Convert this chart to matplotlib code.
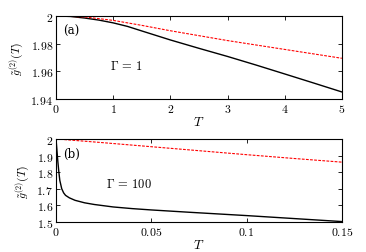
import matplotlib
matplotlib.use("Agg")
import matplotlib.pyplot as plt

plt.rcParams['mathtext.fontset'] = 'cm'
plt.rcParams['font.family'] = 'DejaVu Serif'

# Panel (a): Gamma = 1
Ta = [0, 0.25, 0.5, 0.75, 1, 1.25, 1.5, 2, 2.5, 3, 3.5, 4, 4.5, 5]
ga_black = [2.0, 1.99965, 1.9985, 1.9970, 1.9950, 1.99245, 1.98916, 1.98265,
            1.9766, 1.97072, 1.9645, 1.95807, 1.9516, 1.94506]
Ta_red = [0, 0.5, 1, 1.5, 2, 3, 4, 5]
ga_red = [2.0, 1.9993, 1.9968, 1.9932, 1.9893, 1.9822, 1.9758, 1.9694]

# Panel (b): Gamma = 100
Tb = [0, 0.0005, 0.001, 0.0015, 0.002, 0.003, 0.004, 0.005, 0.007, 0.01, 0.015,
      0.02, 0.03, 0.04, 0.05, 0.07, 0.1, 0.125, 0.15]
gb_black = [2.0, 1.93, 1.86, 1.80, 1.75, 1.70, 1.675, 1.66, 1.645, 1.63, 1.615,
            1.605, 1.59, 1.58, 1.572, 1.558, 1.538, 1.52, 1.502]
Tb_red = [0, 0.025, 0.05, 0.075, 0.1, 0.125, 0.15]
gb_red = [2.0, 1.977, 1.953, 1.929, 1.905, 1.882, 1.86]

xticks_a = [0, 1, 2, 3, 4, 5]
xlabels_a = ['0', '1', '2', '3', '4', '5']
yticks_a = [1.94, 1.96, 1.98, 2.0]
ylabels_a = ['1.94', '1.96', '1.98', '2']
xticks_b = [0, 0.05, 0.1, 0.15]
xlabels_b = ['0', '0.05', '0.1', '0.15']
yticks_b = [1.5, 1.6, 1.7, 1.8, 1.9, 2.0]
ylabels_b = ['1.5', '1.6', '1.7', '1.8', '1.9', '2']

fig = plt.figure(figsize=(3.66, 2.53), dpi=100)
axa = fig.add_axes([0.153, 0.605, 0.781, 0.328])
axb = fig.add_axes([0.153, 0.119, 0.781, 0.328])

fs = 8.5
red_ls = (0, (2.5, 1.2))

def style(ax, xt, xl, yt, yl):
    ax.set_xticks(xt)
    ax.set_xticklabels(['$' + s + '$' for s in xl], fontsize=fs)
    ax.set_yticks(yt)
    ax.set_yticklabels(['$' + s + '$' for s in yl], fontsize=fs)
    ax.tick_params(direction='in', top=True, right=True, length=3, width=0.6, pad=2)
    for sp in ax.spines.values():
        sp.set_linewidth(0.8)
    ax.set_xlabel('$T$', fontsize=fs + 1, labelpad=0)
    ax.set_ylabel(r'$\tilde{g}^{(2)}(T)$', fontsize=fs, labelpad=3)

axa.plot(Ta, ga_black, color='black', lw=1.0)
axa.plot(Ta_red, ga_red, color='red', lw=0.8, ls=red_ls)
axa.set_xlim(0, 5)
axa.set_ylim(1.94, 2.0)
style(axa, xticks_a, xlabels_a, yticks_a, ylabels_a)
axa.text(0.025, 0.78, '(a)', transform=axa.transAxes, fontsize=fs)
axa.text(0.19, 0.36, r'$\Gamma\,=\,1$', transform=axa.transAxes, fontsize=fs + 0.5)

axb.plot(Tb, gb_black, color='black', lw=1.0)
axb.plot(Tb_red, gb_red, color='red', lw=0.8, ls=red_ls)
axb.set_xlim(0, 0.15)
axb.set_ylim(1.5, 2.0)
style(axb, xticks_b, xlabels_b, yticks_b, ylabels_b)
axb.text(0.025, 0.78, '(b)', transform=axb.transAxes, fontsize=fs)
axb.text(0.175, 0.42, r'$\Gamma\,=\,100$', transform=axb.transAxes, fontsize=fs + 0.5)

fig.savefig('out.png', dpi=100)
